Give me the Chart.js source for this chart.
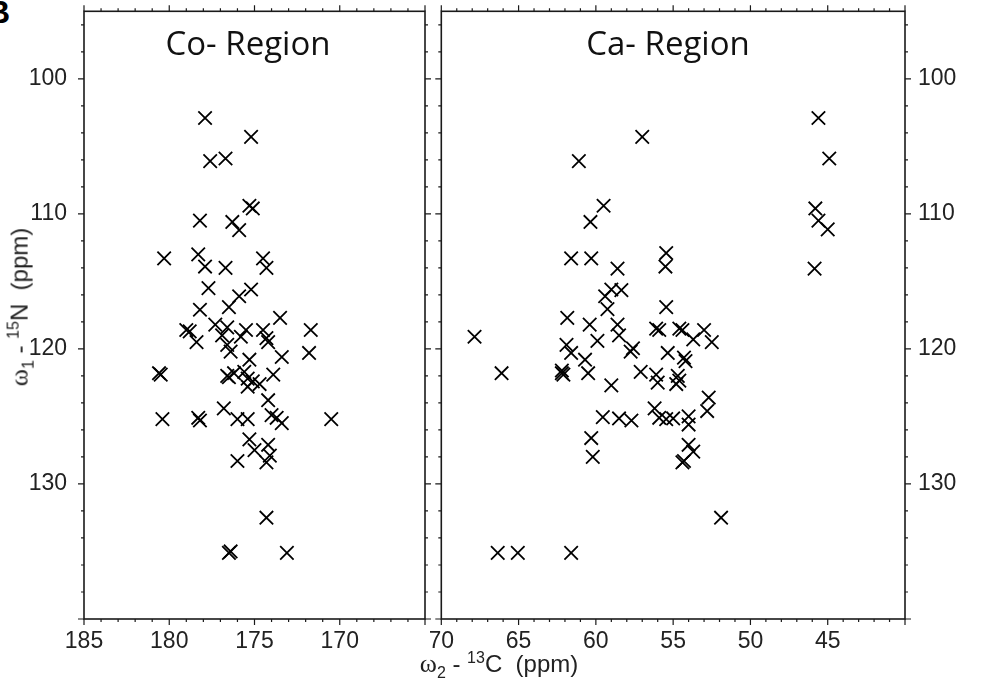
<!DOCTYPE html>
<html>
<head>
<meta charset="utf-8">
<script src="https://cdn.jsdelivr.net/npm/chart.js@4"></script>
<style>
  html, body { margin: 0; padding: 0; background: #fff; }
  body { width: 1001px; height: 687px; position: relative; overflow: hidden; font-family: "Liberation Sans", Arial, sans-serif; }
  .panel { position: absolute; top: 0; height: 687px; }
  .axis-title { position: absolute; font-size: 24px; color: #222; white-space: nowrap; line-height: 1; }
  .axis-title sub, .axis-title sup { font-size: 16px; }
  .greek { font-family: "Liberation Serif", "DejaVu Serif", serif; font-size: 26px; }
  #xTitle { left: 499px; top: 650px; transform: translateX(-50%); }
  #yTitle { left: 21px; top: 307px; transform: translate(-50%, -50%) rotate(-90deg); }
  #panelLabel { position: absolute; left: -13px; top: -6px; font: bold 32px "Liberation Sans", Arial, sans-serif; color: #000; }
</style>
</head>
<body>
<div id="panelLabel">B</div>
<div class="panel" style="left:0;width:440px;"><canvas id="co-chart"></canvas></div>
<div class="panel" style="left:430px;width:571px;"><canvas id="ca-chart"></canvas></div>
<div id="xTitle" class="axis-title"><span class="greek">ω</span><sub>2</sub> - <sup>13</sup>C&nbsp;&nbsp;(ppm)</div>
<div id="yTitle" class="axis-title"><span class="greek">ω</span><sub>1</sub> - <sup>15</sup>N&nbsp;&nbsp;(ppm)</div>
<script>
// peak positions (13C shift, 15N shift)
const coCarbon = [177.9, 175.2, 177.6, 176.7, 175.3, 175.1, 178.2, 176.3, 175.9, 180.3,
  178.3, 177.9, 176.7, 174.5, 174.3, 177.7, 175.2, 175.9, 178.2, 176.5,
  173.5, 179.0, 178.8, 177.3, 176.6, 175.5, 174.5, 171.7, 178.4, 176.9,
  175.8, 174.3, 174.2, 176.6, 176.4, 175.3, 173.4, 171.8, 180.6, 180.5,
  176.6, 176.5, 176.2, 175.6, 175.4, 175.1, 174.7, 175.4, 173.9, 174.2,
  176.8, 180.4, 178.3, 178.2, 176.0, 175.4, 174.0, 173.7, 173.4, 170.5,
  175.3, 175.0, 174.2, 174.1, 174.3, 176.0, 174.3, 176.5, 176.4, 173.1];
const coNitrogen = [102.9, 104.3, 106.1, 105.9, 109.4, 109.6, 110.5, 110.6, 111.2, 113.3,
  113.0, 113.9, 114.0, 113.3, 114.0, 115.5, 115.6, 116.1, 117.1, 116.9,
  117.7, 118.6, 118.7, 118.2, 118.4, 118.6, 118.6, 118.6, 119.5, 119.0,
  119.1, 119.2, 119.5, 119.7, 120.2, 120.8, 120.6, 120.3, 121.8, 121.9,
  122.0, 122.1, 121.8, 121.7, 122.2, 122.4, 122.6, 122.8, 121.9, 123.8,
  124.4, 125.2, 125.1, 125.3, 125.2, 125.2, 124.9, 125.1, 125.5, 125.2,
  126.7, 127.5, 127.1, 127.9, 128.4, 128.3, 132.5, 135.1, 135.0, 135.1];

const caCarbon = [45.6, 57.0, 61.1, 44.9, 59.5, 60.35, 45.8, 45.6, 45.0, 45.85,
  61.6, 60.3, 58.6, 55.45, 55.5, 59.0, 58.35, 59.4, 59.25, 55.45,
  61.85, 60.4, 58.6, 56.1, 55.9, 54.6, 54.4, 53.0, 53.7, 52.5,
  67.85, 59.9, 58.5, 61.9, 57.6, 55.35, 61.6, 60.7, 57.75, 54.3,
  54.2, 66.1, 62.2, 62.1, 62.2, 60.5, 59.0, 57.1, 56.1, 56.0,
  54.7, 54.6, 54.8, 52.7, 52.8, 59.55, 58.5, 57.7, 56.2, 55.9,
  55.45, 55.0, 54.0, 54.0, 60.3, 60.2, 54.0, 53.7, 54.3, 54.4,
  51.9, 66.35, 65.05, 61.6];
const caNitrogen = [102.9, 104.3, 106.1, 105.9, 109.4, 110.6, 109.6, 110.5, 111.15, 114.05,
  113.3, 113.3, 114.05, 112.9, 113.9, 115.6, 115.65, 116.1, 117.05, 116.9,
  117.7, 118.2, 118.2, 118.5, 118.6, 118.5, 118.6, 118.6, 119.3, 119.5,
  119.1, 119.4, 119.0, 119.7, 119.95, 120.3, 120.3, 120.8, 120.2, 120.65,
  120.9, 121.8, 121.6, 121.9, 121.8, 121.8, 122.7, 121.7, 121.9, 122.5,
  122.0, 122.35, 122.6, 123.6, 124.6, 125.05, 125.15, 125.3, 124.4, 125.1,
  125.2, 125.15, 125.0, 125.6, 126.6, 128.0, 127.1, 127.6, 128.3, 128.4,
  132.5, 135.1, 135.1, 135.1];

const coTicks = [185, 180, 175, 170];
const caTicks = [70, 65, 60, 55, 50, 45];
const nTicks = [100, 110, 120, 130];

const INK = '#1a1a1a';
const tickFont = { family: '"Liberation Sans", Arial, sans-serif', size: 23 };

// frame box with outward ticks on all four sides + panel heading
const frameTicks = {
    id: 'frameTicks',
    afterDraw(chart, args, opts) {
        const { ctx, chartArea: a, scales: { x, y } } = chart;
        ctx.save();
        ctx.strokeStyle = INK;
        ctx.lineWidth = 1.6;
        ctx.strokeRect(a.left, a.top, a.right - a.left, a.bottom - a.top);
        ctx.lineWidth = 1.2;
        ctx.beginPath();
        const lo = Math.ceil(Math.min(x.min, x.max)), hi = Math.max(x.min, x.max);
        for (let v = lo; v <= hi; v++) {
            const px = x.getPixelForValue(v);
            const len = v % 5 === 0 ? 6 : 3;
            ctx.moveTo(px, a.bottom); ctx.lineTo(px, a.bottom + len);
            ctx.moveTo(px, a.top); ctx.lineTo(px, a.top - len);
        }
        for (let v = 96; v <= 140; v += 2) {
            const py = y.getPixelForValue(v);
            const len = v % 10 === 0 ? 6 : 3;
            ctx.moveTo(a.left, py); ctx.lineTo(a.left - len, py);
            ctx.moveTo(a.right, py); ctx.lineTo(a.right + len, py);
        }
        ctx.stroke();
        ctx.fillStyle = '#111';
        ctx.font = '33px "Open Sans", Lato, sans-serif';
        ctx.textAlign = 'center';
        ctx.textBaseline = 'alphabetic';
        ctx.fillText(opts.heading, opts.headingX, 55);
        ctx.restore();
    }
};

function noMargins(s) {
    s.paddingTop = 0; s.paddingBottom = 0; s.paddingLeft = 0; s.paddingRight = 0;
}

function makePanel(canvasId, carbon, nitrogen, xMin, xMax, xTicks, yPos, heading, headingX, pad) {
    const points = carbon.map((c, i) => ({ x: c, y: nitrogen[i] }));
    return new Chart(document.getElementById(canvasId), {
        type: 'scatter',
        data: {
            datasets: [{
                data: points,
                pointStyle: 'crossRot',
                pointRadius: 9.5,
                borderColor: '#000',
                borderWidth: 1.8
            }]
        },
        options: {
            responsive: true,
            maintainAspectRatio: false,
            animation: false,
            events: [],
            layout: { padding: pad },
            plugins: {
                legend: { display: false },
                tooltip: { enabled: false },
                frameTicks: { heading: heading, headingX: headingX }
            },
            scales: {
                x: {
                    type: 'linear',
                    reverse: true,
                    min: xMin,
                    max: xMax,
                    grid: { display: false },
                    border: { display: false },
                    ticks: { color: '#222', font: tickFont, padding: 1, maxRotation: 0 },
                    afterBuildTicks: s => { s.ticks = xTicks.map(v => ({ value: v })); },
                    afterFit: s => { s.height = 68; noMargins(s); }
                },
                y: {
                    type: 'linear',
                    position: yPos,
                    reverse: true,
                    min: 95,
                    max: 140,
                    grid: { display: false },
                    border: { display: false },
                    ticks: { color: '#222', font: tickFont, padding: yPos === 'left' ? 9 : 5 },
                    afterBuildTicks: s => { s.ticks = nTicks.map(v => ({ value: v })); },
                    afterFit: s => { s.width = yPos === 'left' ? 84 : 96; noMargins(s); }
                }
            }
        },
        plugins: [frameTicks]
    });
}

makePanel('co-chart', coCarbon, coNitrogen, 165, 185, coTicks, 'left', 'Co- Region', 248,
    { top: 7, right: 15, left: 0, bottom: 0 });
makePanel('ca-chart', caCarbon, caNitrogen, 40, 70, caTicks, 'right', 'Ca- Region', 238,
    { top: 7, right: 0, left: 9, bottom: 0 });
</script>
</body>
</html>
